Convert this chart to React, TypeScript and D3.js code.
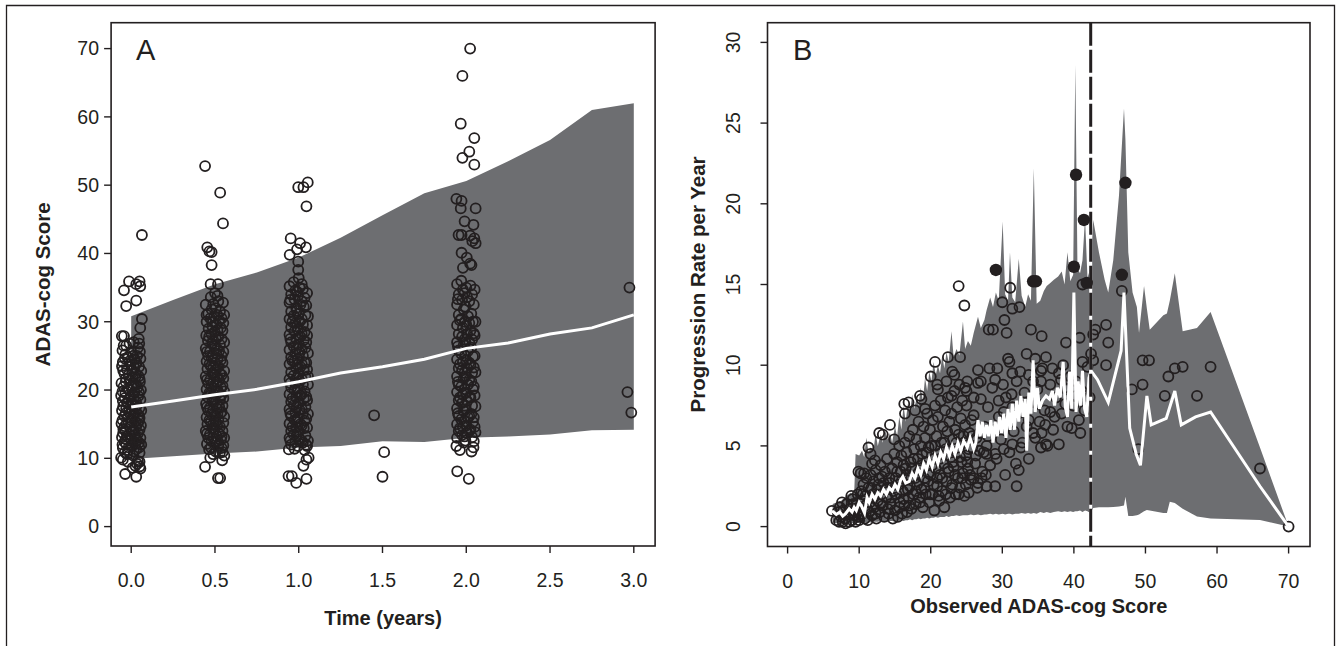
import React from "react";
import * as d3 from "d3";

// ---------- Panel A data ----------
const timeGrid = [0, 0.25, 0.5, 0.75, 1.0, 1.25, 1.5, 1.75, 2.0, 2.25, 2.5, 2.75, 3.0];
const bandUpperA = [30.8, 33.2, 35.5, 37.2, 39.4, 42.3, 45.6, 48.8, 50.6, 53.5, 56.6, 61.0, 62.0];
const bandLowerA = [9.9, 10.3, 10.7, 11.0, 11.6, 11.8, 12.5, 12.4, 13.0, 13.2, 13.5, 14.1, 14.2];
const medianA = [17.5, 18.4, 19.3, 20.1, 21.2, 22.5, 23.4, 24.5, 26.1, 26.9, 28.2, 29.1, 31.0];

const obsTime0: [number, number][] = [
  [-0.043,34.6],[-0.013,35.9],[0.03,35.5],[0.05,35.9],[0.054,35.2],[-0.03,32.3],[0.03,33.1],[0.064,42.7],[0.064,30.4],[-0.056,27.9],[-0.043,27.9],[0.054,29.1],[0.045,27.5],[-0.036,7.7],[0.03,7.3],[0.05,8.8],[0.008,8.6],[-0.06,10.1],[0.035,9.2],[0.055,8.5],[-0.02,9.5],[0.012,10.4],
  [-0.05,24.1],[-0.055,23.5],[-0.04,22.4],[-0.058,21.0],[-0.045,20.5],[-0.06,19.2],[-0.05,18.4],[-0.055,17.0],[-0.04,16.2],[-0.058,15.1],[-0.047,14.3],[-0.055,13.1],[-0.04,12.4],[-0.05,11.5],[-0.035,25.2],[-0.03,26.5],[-0.02,24.8],[-0.025,23.0],[-0.03,21.7],[-0.02,20.2],[-0.035,19.5],[-0.025,18.1],[-0.03,17.3],[-0.02,16.0],[-0.028,15.0],[-0.035,14.0],[-0.022,13.2],[-0.03,12.1],[-0.018,11.2],[-0.025,10.6],[-0.01,26.8],[0.0,25.6],[-0.005,23.8],[0.005,22.9],[-0.008,21.4],[0.003,20.6],[-0.005,19.0],[0.0,18.3],[0.006,17.2],[-0.004,16.5],[0.002,15.5],[-0.006,14.6],[0.004,13.8],[-0.002,12.8],[0.007,11.9],[0.015,27.0],[0.02,24.5],[0.018,23.3],[0.025,21.9],[0.012,20.9],[0.02,19.7],[0.015,18.7],[0.022,17.6],[0.018,16.6],[0.025,15.4],[0.014,14.2],[0.02,13.4],[0.025,12.2],[0.016,11.0],[0.035,25.0],[0.04,26.2],[0.032,23.9],[0.045,22.0],[0.038,20.4],[0.042,19.1],[0.035,17.8],[0.045,16.3],[0.038,15.1],[0.042,13.7],[0.035,12.6],[0.048,11.6],[0.055,24.6],[0.06,22.8],[0.052,21.2],[0.058,20.0],[0.055,18.6],[0.06,17.0],[0.05,15.9],[0.058,14.8],[0.055,13.0],[0.06,12.0],[0.05,10.8],[0.048,26.8],[-0.045,26.5],[-0.05,9.8],[0.04,9.6],[0.025,8.9],
  [-0.052,25.8],[-0.038,24.6],[-0.048,22.9],[-0.033,21.2],[-0.052,19.8],[-0.038,18.8],[-0.048,17.6],[-0.033,16.6],[-0.052,15.6],[-0.038,14.7],[-0.048,13.7],[-0.033,12.8],[-0.052,12.0],[-0.038,10.9],[-0.012,24.2],[-0.015,22.2],[-0.012,20.0],[-0.015,18.6],[-0.012,17.0],[-0.015,15.2],[-0.012,13.5],[-0.015,11.6],[0.01,25.0],[0.008,21.8],[0.01,19.4],[0.008,17.8],[0.01,16.1],[0.008,14.0],[0.01,12.4],[0.03,24.0],[0.028,22.4],[0.03,20.8],[0.028,18.3],[0.03,16.8],[0.028,14.5],[0.03,13.0],[0.03,11.3],[0.052,25.6],[0.047,23.4],[0.05,21.6],[0.047,19.6],[0.05,17.4],[0.047,15.5],[0.05,14.2],[0.047,12.3],[0.05,9.5]
];
const obsTime05: [number, number][] = [
  [0.441,52.8],[0.531,48.9],[0.548,44.4],[0.454,40.9],[0.467,40.3],[0.48,40.2],[0.48,38.3],[0.474,35.5],[0.518,35.5],[0.441,8.75],[0.518,7.1],[0.531,7.1],[0.472,10.1],[0.543,9.7],[0.556,10.4],
  [0.445,32.5],[0.46,31.2],[0.45,30.0],[0.462,29.0],[0.448,28.0],[0.458,27.2],[0.445,26.1],[0.46,25.0],[0.45,24.2],[0.455,23.1],[0.445,22.0],[0.46,21.0],[0.45,20.1],[0.455,19.0],[0.447,18.0],[0.46,17.0],[0.45,16.0],[0.455,15.0],[0.445,14.0],[0.46,13.0],[0.452,12.1],[0.465,11.3],
  [0.475,33.6],[0.48,31.8],[0.472,30.5],[0.485,29.3],[0.478,28.2],[0.483,26.8],[0.47,25.6],[0.48,24.7],[0.476,23.5],[0.485,22.5],[0.472,21.5],[0.48,20.5],[0.476,19.5],[0.485,18.4],[0.47,17.4],[0.48,16.5],[0.476,15.4],[0.485,14.4],[0.47,13.5],[0.48,12.5],[0.476,11.6],[0.49,10.6],
  [0.5,34.2],[0.505,32.0],[0.495,30.8],[0.508,29.6],[0.498,28.5],[0.505,27.5],[0.495,26.4],[0.51,25.3],[0.5,24.0],[0.505,23.0],[0.495,22.2],[0.51,21.2],[0.5,20.2],[0.505,19.3],[0.495,18.3],[0.51,17.3],[0.5,16.2],[0.505,15.3],[0.495,14.2],[0.51,13.2],[0.5,12.3],[0.505,11.0],
  [0.52,33.0],[0.53,31.5],[0.525,30.2],[0.535,29.1],[0.52,27.8],[0.53,26.6],[0.525,25.7],[0.535,24.4],[0.52,23.4],[0.53,22.4],[0.525,21.4],[0.535,20.4],[0.52,19.6],[0.53,18.6],[0.525,17.6],[0.535,16.7],[0.52,15.7],[0.53,14.6],[0.525,13.6],[0.535,12.7],[0.52,11.8],[0.53,10.8],
  [0.548,32.8],[0.555,31.0],[0.55,29.8],[0.545,28.7],[0.555,27.0],[0.55,25.6],[0.545,24.0],[0.555,22.8],[0.55,21.7],[0.545,20.6],[0.555,19.8],[0.55,18.8],[0.545,17.7],[0.555,16.1],[0.55,15.2],[0.545,14.0],[0.555,13.0],[0.55,11.9],[0.545,10.9],
  [0.45,31.0],[0.465,27.8],[0.452,25.6],[0.467,23.8],[0.452,21.5],[0.467,19.6],[0.452,17.5],[0.467,15.6],[0.452,13.6],[0.49,32.6],[0.488,30.0],[0.49,27.3],[0.488,25.0],[0.49,23.2],[0.488,21.0],[0.49,19.0],[0.488,17.0],[0.49,15.0],[0.488,13.0],[0.515,33.8],[0.513,31.0],[0.515,28.8],[0.513,26.0],[0.515,24.5],[0.513,22.0],[0.515,20.0],[0.513,18.0],[0.515,16.5],[0.513,14.8],[0.515,12.5],[0.54,30.5],[0.54,27.5],[0.54,25.0],[0.54,22.2],[0.54,19.3],[0.54,16.8],[0.54,13.2],[0.54,11.5]
];
const obsTime1: [number, number][] = [
  [0.997,49.7],[1.028,49.7],[1.054,50.4],[1.046,46.9],[0.952,42.2],[0.946,39.8],[0.99,40.6],[1.008,41.5],[1.043,40.9],[0.997,38.8],[0.997,37.6],[0.939,7.4],[0.959,7.4],[0.985,6.4],[1.046,7.0],[1.028,8.9],[1.046,9.8],[1.059,10.1],[0.941,11.3],
  [0.945,35.2],[0.955,34.0],[0.945,32.8],[0.955,31.5],[0.945,30.4],[0.955,29.2],[0.945,28.1],[0.955,27.0],[0.945,25.9],[0.955,24.8],[0.945,23.8],[0.955,22.6],[0.945,21.6],[0.955,20.4],[0.945,19.4],[0.955,18.3],[0.945,17.2],[0.955,16.2],[0.945,15.1],[0.955,14.0],[0.945,13.0],[0.955,12.0],
  [0.97,35.8],[0.98,34.6],[0.975,33.3],[0.985,32.0],[0.97,30.9],[0.98,29.8],[0.975,28.6],[0.985,27.5],[0.97,26.4],[0.98,25.3],[0.975,24.2],[0.985,23.2],[0.97,22.1],[0.98,21.0],[0.975,20.0],[0.985,18.9],[0.97,17.8],[0.98,16.7],[0.975,15.6],[0.985,14.5],[0.97,13.5],[0.98,12.4],[0.975,11.4],
  [1.0,36.4],[1.005,35.0],[0.995,33.8],[1.01,32.5],[1.0,31.2],[1.005,30.0],[0.995,28.9],[1.01,27.8],[1.0,26.7],[1.005,25.5],[0.995,24.5],[1.01,23.4],[1.0,22.4],[1.005,21.3],[0.995,20.3],[1.01,19.2],[1.0,18.1],[1.005,17.1],[0.995,16.0],[1.01,15.0],[1.0,13.9],[1.005,12.8],[0.995,11.8],
  [1.025,34.8],[1.035,33.5],[1.03,32.2],[1.04,31.0],[1.025,29.6],[1.035,28.5],[1.03,27.3],[1.04,26.2],[1.025,25.0],[1.035,24.0],[1.03,22.9],[1.04,21.9],[1.025,20.8],[1.035,19.8],[1.03,18.7],[1.04,17.5],[1.025,16.5],[1.035,15.5],[1.03,14.4],[1.04,13.3],[1.025,12.3],[1.035,11.2],
  [1.05,34.2],[1.055,30.8],[1.05,28.0],[1.055,25.4],[1.05,23.0],[1.055,20.8],[1.05,18.5],[1.055,16.5],[1.05,14.5],[1.055,12.6],[1.05,29.5],[1.055,22.0],[1.05,11.8],
  [0.95,33.2],[0.962,30.0],[0.95,27.5],[0.962,24.3],[0.95,21.0],[0.962,18.8],[0.95,16.6],[0.962,14.6],[0.95,12.6],[0.99,34.4],[0.988,31.6],[0.99,29.3],[0.988,26.1],[0.99,23.7],[0.988,21.8],[0.99,19.7],[0.988,17.5],[0.99,15.4],[0.988,13.3],[1.018,35.5],[1.018,33.0],[1.018,30.4],[1.018,28.2],[1.018,26.0],[1.018,23.8],[1.018,21.6],[1.018,19.4],[1.018,17.2],[1.018,14.8],[1.018,12.6],[1.045,32.4],[1.045,27.0],[1.045,24.0],[1.045,19.0],[1.045,15.8],[1.045,12.0]
];
const obsTime15: [number, number][] = [[1.45,16.3],[1.51,10.9],[1.50,7.3]];
const obsTime2: [number, number][] = [
  [2.023,70.0],[1.977,66.0],[1.967,59.0],[2.048,56.9],[2.018,54.9],[1.977,54.0],[2.048,53.0],[1.941,48.0],[1.972,47.7],[1.967,46.6],[2.056,46.6],[1.99,44.7],[2.043,44.2],[1.954,42.7],[1.972,42.7],[2.023,42.6],[2.048,42.2],[2.056,41.5],[2.036,41.8],[1.972,40.1],[2.003,39.4],[2.023,38.5],[2.031,38.3],[1.98,37.9],[1.946,8.1],[2.015,7.0],[1.962,11.2],[2.031,11.0],[1.941,11.8],[2.043,11.6],
  [1.945,35.5],[1.955,34.0],[1.945,32.5],[1.955,31.0],[1.945,29.5],[1.955,28.2],[1.945,27.0],[1.955,25.8],[1.945,24.5],[1.955,23.2],[1.945,22.0],[1.955,20.8],[1.945,19.7],[1.955,18.5],[1.945,17.3],[1.955,16.2],[1.945,15.0],[1.955,14.0],[1.945,13.0],
  [1.97,36.0],[1.98,34.7],[1.975,33.2],[1.985,31.8],[1.97,30.4],[1.98,29.1],[1.975,27.8],[1.985,26.6],[1.97,25.3],[1.98,24.1],[1.975,22.9],[1.985,21.7],[1.97,20.5],[1.98,19.3],[1.975,18.1],[1.985,16.9],[1.97,15.7],[1.98,14.6],[1.975,13.4],[1.985,12.3],
  [2.0,35.0],[2.005,33.6],[1.995,32.2],[2.01,30.8],[2.0,29.5],[2.005,28.2],[1.995,27.0],[2.01,25.7],[2.0,24.4],[2.005,23.2],[1.995,22.0],[2.01,20.8],[2.0,19.6],[2.005,18.4],[1.995,17.2],[2.01,16.0],[2.0,14.8],[2.005,13.7],[1.995,12.6],
  [2.025,35.3],[2.035,34.0],[2.03,31.2],[2.04,30.0],[2.025,28.7],[2.035,27.4],[2.03,26.2],[2.04,24.9],[2.025,23.7],[2.035,22.5],[2.03,21.3],[2.04,20.1],[2.025,18.9],[2.035,17.7],[2.03,16.5],[2.04,15.3],[2.025,14.2],[2.035,13.1],
  [2.05,34.7],[2.055,30.0],[2.05,25.0],[2.055,22.6],[2.05,19.2],[2.055,17.6],[2.05,14.6],[2.055,13.8],[2.05,28.0],
  [1.95,33.3],[1.962,30.2],[1.95,26.4],[1.962,23.8],[1.95,21.2],[1.962,18.9],[1.95,16.6],[1.962,14.4],[1.99,34.2],[1.992,30.0],[1.99,27.4],[1.992,25.0],[1.99,22.5],[1.992,20.1],[1.99,17.7],[1.992,15.4],[1.99,13.2],[2.018,33.0],[2.018,29.8],[2.018,27.0],[2.018,24.0],[2.018,21.5],[2.018,19.0],[2.018,16.2],[2.018,14.0],[2.045,32.5],[2.045,28.3],[2.045,23.3],[2.045,20.5],[2.045,16.0],[2.045,12.5]
];
const obsTime3: [number, number][] = [[2.974,35.0],[2.962,19.7],[2.985,16.7]];

const xTicksA = [0, 0.5, 1.0, 1.5, 2.0, 2.5, 3.0];
const yTicksA = [0, 10, 20, 30, 40, 50, 60, 70];

// ---------- Panel B data ----------
const bandXB = [6.3,6.8,7.5,8.2,8.8,9.3,9.5,10.0,10.4,10.7,11.0,11.3,11.6,12.0,12.3,12.6,13.0,13.3,13.6,14.0,14.3,14.6,15.0,15.3,15.6,15.9,16.2,16.5,16.8,17.1,17.4,17.7,18.0,18.3,18.6,18.9,19.2,19.5,19.8,20.1,20.4,20.7,21.0,21.3,21.6,21.9,22.2,22.5,22.9,23.2,23.6,24.0,24.5,24.8,25.2,25.6,26.0,26.6,27.0,27.5,27.8,28.3,28.7,29.1,29.5,30.05,30.4,30.8,31.07,31.4,31.8,32.3,32.7,33.2,33.6,34.0,34.4,34.8,35.3,35.8,36.2,36.7,37.2,37.8,38.3,38.7,39.1,39.5,39.9,40.2,40.5,40.86,41.2,41.56,41.9,42.3,42.7,43.5,44.3,44.8,45.5,46.3,47.0,47.2,47.6,48.2,48.8,49.1,49.8,50.2,50.6,52.5,53.0,53.4,54.1,55.2,57.2,59.1,66.0,70.0];
const bandLoB = [0.25,0.2,0.2,0.15,0.2,0.2,0.2,0.25,0.2,0.25,0.25,0.3,0.25,0.3,0.3,0.3,0.35,0.3,0.35,0.3,0.35,0.35,0.3,0.4,0.35,0.4,0.35,0.4,0.4,0.45,0.4,0.45,0.45,0.5,0.45,0.5,0.5,0.55,0.5,0.55,0.55,0.6,0.55,0.6,0.6,0.6,0.65,0.6,0.65,0.65,0.7,0.65,0.7,0.7,0.7,0.75,0.7,0.75,0.7,0.75,0.75,0.8,0.75,0.8,0.75,0.8,0.75,0.8,0.8,0.75,0.8,0.8,0.85,0.8,0.85,0.8,0.85,0.8,0.9,0.85,0.9,0.85,0.9,0.95,0.9,0.95,0.9,0.95,0.9,0.95,0.95,1.0,0.9,1.0,0.95,0.84,1.15,1.2,1.2,1.2,1.22,1.25,1.3,1.85,0.66,0.65,0.7,0.75,0.95,1.03,1.0,0.85,0.84,1.54,1.46,1.1,0.62,0.5,0.41,0.0];
const bandHiB = [1.4,1.5,1.6,1.9,2.1,2.0,4.5,4.4,4.7,4.3,5.5,4.6,4.9,4.7,5.8,5.0,5.7,5.2,6.0,5.4,5.8,5.2,6.2,5.6,6.8,6.0,7.5,6.5,7.6,7.0,8.2,7.3,7.9,7.5,8.6,7.8,9.2,8.4,9.6,9.0,10.2,9.4,10.0,9.5,10.6,9.8,10.8,10.2,12.1,10.5,11.0,10.6,12.7,11.0,11.5,11.2,12.0,13.0,12.3,12.8,13.4,14.2,13.6,14.5,14.0,18.9,14.4,14.0,17.0,14.2,13.9,16.6,14.3,13.6,14.4,14.0,22.2,13.8,14.0,14.6,14.9,15.1,15.3,15.5,15.8,15.0,17.0,15.2,15.6,28.6,16.0,15.7,16.5,19.1,15.4,16.0,19.0,17.0,15.3,14.5,16.5,20.5,25.9,24.0,17.0,14.5,13.6,12.0,14.9,13.5,12.2,13.1,13.2,14.0,15.7,12.1,12.3,13.3,4.9,0.0];

const medXB = [6.2,6.8,7.3,7.7,8.1,8.6,9.0,9.3,9.6,10.0,10.3,10.75,11.1,11.4,11.8,12.2,12.6,13.0,13.4,13.8,14.2,14.6,15.0,15.4,15.8,16.1,16.5,17.0,17.4,17.8,18.2,18.6,19.0,19.4,19.8,20.2,20.6,21.0,21.4,21.8,22.2,22.6,23.0,23.4,23.8,24.2,24.6,25.1,25.5,26.0,26.3,26.6,26.9,27.2,27.5,27.8,28.1,28.4,28.7,29.0,29.3,29.6,29.9,30.2,30.5,30.8,31.1,31.4,31.7,32.0,32.3,32.6,32.9,33.2,33.4,33.7,34.0,34.3,34.6,34.9,35.2,35.6,36.1,36.6,37.0,37.3,37.7,38.1,38.5,38.8,39.1,39.4,39.7,40.0,40.3,40.6,40.9,41.2,41.5,41.8,42.1,42.4,43.3,44.8,46.6,47.0,47.8,48.7,49.3,50.2,50.8,52.9,54.1,55.0,57.0,59.1,66.0,70.0];
const medYB = [0.97,0.75,0.9,0.65,0.8,1.1,0.9,1.2,1.0,1.5,1.3,0.84,1.8,1.5,2.0,1.7,2.1,1.9,2.3,2.0,2.4,2.2,2.6,2.3,2.9,3.1,2.7,2.8,3.3,3.0,3.6,3.2,3.9,3.5,4.2,3.7,4.4,3.9,4.6,4.2,4.9,4.4,5.0,4.5,5.2,4.7,5.3,4.9,5.5,4.8,5.2,6.6,5.6,6.5,5.5,6.3,5.6,6.6,5.2,6.5,5.6,6.8,5.8,7.0,5.5,7.3,6.0,7.6,6.0,7.8,6.5,8.1,6.8,7.9,4.7,8.3,7.0,10.3,7.1,8.6,7.3,7.8,8.1,7.9,8.4,7.5,8.6,8.0,10.2,7.4,6.8,9.6,7.3,14.5,7.1,9.0,7.5,9.65,7.3,6.8,9.2,9.65,9.1,7.7,10.9,14.5,6.1,4.5,3.8,8.1,6.3,6.7,8.4,6.3,6.8,7.1,2.5,0.0];

const obsB: [number, number][] = [
  [6.2,0.97],[23.9,14.9],[24.7,13.7],[20.6,10.2],[20.0,9.3],[20.9,8.8],[16.9,7.7],[16.3,7.6],[18.5,8.1],[18.7,7.9],[22.4,10.5],[24.1,10.5],[23.3,9.4],[24.8,8.6],[25.1,9.0],[14.3,6.3],[12.8,5.8],[13.3,5.7],[11.3,4.9],[11.6,4.5],[9.9,3.4],[10.7,3.3],[14.9,5.4],
  [26.6,9.7],[26.6,8.9],[28.1,12.2],[28.7,12.2],[30.0,13.9],[30.3,12.8],[30.6,12.0],[31.1,14.8],[31.4,13.5],[32.4,13.6],[34.0,12.2],[35.5,11.8],[33.4,10.7],[34.6,10.4],[36.1,10.5],[30.8,10.4],[31.0,10.2],[31.4,9.5],[29.3,9.8],[29.0,9.1],[32.0,9.0],[33.7,9.4],[35.4,9.65],[35.4,9.0],
  [27.8,2.5],[29.0,2.5],[32.0,2.5],[32.3,3.5],[25.3,2.1],[37.9,5.1],[35.4,4.9],[36.1,5.1],[40.9,5.8],[38.2,9.1],[38.5,10.0],[38.9,11.4],[40.8,11.7],[41.2,10.2],[42.4,10.7],[42.7,11.9],[43.0,12.2],[44.5,12.5],[44.8,11.4],[44.5,10.0],[42.7,10.3],[41.2,15.0],[46.7,14.6],
  [48.1,8.5],[49.0,4.8],[49.6,8.8],[49.6,10.3],[50.5,10.3],[52.7,8.1],[53.2,9.3],[54.1,9.8],[55.2,9.9],[57.2,8.1],[59.1,9.9],[66.0,3.6],[70.0,0.0],
  [30.2,7.1],[31.4,7.4],[32.6,7.1],[33.7,6.6],[34.9,7.6],[36.7,7.1],[34.3,5.8],[32.6,4.9],[31.4,5.1],[30.2,4.8],[29.0,4.5],[27.8,4.5],[37.3,6.8],[39.7,6.1],[40.3,8.1],[41.8,8.1],[38.8,7.6],[35.5,5.8],
  [6.8,0.4],[7.0,0.9],[7.2,0.3],[7.3,1.2],[7.5,0.6],[7.7,0.3],[7.8,1.0],[8.0,0.5],[8.1,0.2],[8.3,1.4],[8.5,0.8],[8.6,0.3],[8.8,1.1],[9.0,0.4],[9.1,1.7],[9.3,0.7],[9.5,0.3],[9.6,1.3],[9.8,2.0],[9.9,0.6],[7.6,1.5],[8.9,1.9],[9.4,1.0],
  [10.0,0.4],[10.1,1.2],[10.3,2.2],[10.4,0.8],[10.5,1.6],[10.6,2.6],[10.8,0.5],[10.9,1.9],[11.0,3.0],[11.1,1.1],[11.2,0.4],[11.3,2.4],[11.5,1.5],[11.6,3.2],[11.8,0.7],[11.9,2.0],[12.0,2.8],[12.1,1.2],[12.3,3.5],[12.4,0.5],[12.5,2.3],[12.6,1.6],[12.8,3.0],[12.9,0.9],[13.0,3.8],[13.1,2.0],[13.3,1.3],[13.4,2.7],[13.5,0.6],[13.6,3.4],[13.8,1.8],[13.9,4.2],[14.0,2.4],[14.1,0.8],[14.2,3.0],[14.4,1.4],[14.6,3.6],[14.7,0.5],[14.8,2.2],[14.9,4.5],[11.8,3.9],[10.2,3.3],[12.2,4.1],
  [15.0,1.0],[15.1,3.0],[15.2,2.0],[15.3,4.0],[15.4,0.6],[15.5,2.6],[15.6,5.0],[15.7,1.5],[15.8,3.4],[15.9,4.4],[16.0,0.8],[16.1,2.2],[16.2,3.8],[16.3,1.3],[16.4,5.2],[16.5,2.9],[16.6,4.6],[16.7,0.9],[16.8,3.2],[16.9,1.8],[17.0,5.6],[17.1,2.5],[17.2,4.0],[17.3,1.1],[17.4,3.6],[17.5,6.0],[17.6,2.0],[17.7,4.8],[17.8,3.0],[17.9,1.4],[18.0,5.4],[18.1,2.6],[18.2,4.2],[18.3,6.5],[18.4,1.8],[18.5,3.5],[18.6,5.0],[18.7,2.3],[18.8,4.5],[18.9,1.2],[19.0,6.2],[19.1,3.0],[19.2,5.5],[19.3,2.0],[19.4,4.0],[19.5,7.0],[19.6,2.8],[19.7,4.9],[19.8,1.5],[19.9,6.0],[16.4,7.0],[17.8,7.2],[19.2,7.3],
  [20.0,3.2],[20.1,5.0],[20.2,2.0],[20.3,6.6],[20.4,4.2],[20.5,1.0],[20.6,7.5],[20.7,3.6],[20.8,5.6],[20.9,2.5],[21.0,6.8],[21.1,4.5],[21.2,1.6],[21.3,3.2],[21.4,7.8],[21.5,5.2],[21.6,2.2],[21.7,6.2],[21.8,3.9],[21.9,1.2],[22.0,7.2],[22.1,4.8],[22.2,2.8],[22.3,5.9],[22.4,8.0],[22.5,3.4],[22.6,6.5],[22.7,1.8],[22.8,4.3],[22.9,7.0],[23.0,2.6],[23.1,5.4],[23.2,3.7],[23.3,8.4],[23.4,6.0],[23.5,2.0],[23.6,4.6],[23.7,7.4],[23.8,3.0],[23.9,5.7],[24.0,8.8],[24.1,2.4],[24.2,6.7],[24.3,4.0],[24.4,7.8],[24.5,3.3],[24.6,5.2],[24.7,1.9],[24.8,6.3],[24.9,4.4],[25.0,7.5],[25.2,3.6],[25.4,5.8],[25.6,2.9],[25.8,4.9],[26.0,6.9],[26.2,3.9],[26.4,5.5],[26.6,2.7],[26.8,4.7],[27.0,7.9],[27.2,3.4],[27.5,6.2],[27.8,5.0],[21.0,8.5],[22.2,9.0],[23.0,9.6],
  [28.0,7.4],[28.3,3.8],[28.6,8.6],[28.9,6.0],[29.2,4.2],[29.5,7.8],[29.8,5.4],[30.1,8.8],[30.4,3.2],[30.7,6.6],[31.0,4.6],[31.3,8.2],[31.6,5.9],[31.9,3.9],[32.2,7.0],[32.5,9.6],[32.8,5.2],[33.1,8.3],[33.4,6.2],[33.7,4.2],[34.0,7.7],[34.3,9.0],[34.6,5.5],[34.9,8.5],[35.2,6.5],[35.6,9.8],[35.9,7.2],[36.3,5.0],[36.7,8.8],[37.1,6.0],[37.5,8.0],[37.9,9.5],[38.3,7.0],[38.7,8.6],[39.1,6.2],[39.5,9.3],[39.9,7.5],[40.3,9.0],[40.7,6.6],[41.1,8.4],[41.5,7.2],[41.9,9.9],[42.2,8.0],
  [9.2,1.4],[9.7,0.9],[10.2,0.7],[10.5,2.0],[10.9,1.3],[11.4,0.9],[11.7,2.4],[12.0,1.8],[12.3,0.8],[12.7,2.6],[13.0,1.4],[13.2,3.1],[13.7,2.3],[14.0,1.1],[14.3,2.7],[14.5,1.8],
  [15.0,2.4],[15.3,3.4],[15.6,1.2],[15.9,2.8],[16.2,1.7],[16.5,3.6],[16.8,2.3],[17.0,1.3],[17.3,3.0],[17.6,4.2],[17.9,2.2],[18.2,3.3],[18.5,1.5],[18.8,3.8],[19.1,2.4],[19.4,4.6],[19.7,3.3],[19.9,2.0],
  [20.2,3.8],[20.4,2.6],[20.6,5.0],[20.9,3.0],[21.1,1.9],[21.3,4.2],[21.6,3.0],[21.9,5.2],[22.1,2.0],[22.4,3.6],[22.6,4.8],[22.9,2.4],[23.1,4.0],[23.4,3.2],[23.6,5.2],[23.9,2.0],[24.1,4.3],[24.4,3.0],[24.6,5.6],[24.9,2.6],[25.1,4.0],[25.3,4.8],[25.5,3.2],[25.8,5.6],[26.0,3.0],[26.3,4.4],[26.5,2.4],[26.8,5.8],[27.1,3.0],[27.4,4.6],[27.7,3.2],[28.0,5.6],
  [25.0,8.4],[26.0,8.0],[27.0,9.0],[28.2,9.8],[29.5,6.8],[30.5,8.0],[33.0,7.5],[36.0,6.3],[37.0,9.8],[39.0,8.5],[25.7,6.6],[22.9,8.1]
];
const filledB: [number, number][] = [[29.1,15.9],[34.3,15.2],[34.7,15.2],[40.0,16.1],[40.3,21.8],[41.4,19.0],[41.8,15.1],[46.7,15.6],[47.2,21.3]];
const cutoffB = 42.35;
const xTicksB = [0, 10, 20, 30, 40, 50, 60, 70];
const yTicksB = [0, 5, 10, 15, 20, 25, 30];

const INK = "#231f20";
const BAND = "#6d6e71";
const FONT = "'Liberation Sans', Arial, Helvetica, sans-serif";

export default function App() {
  const xA = d3.scaleLinear().domain([0, 3]).range([131.2, 633.8]);
  const yA = d3.scaleLinear().domain([0, 70]).range([526.6, 48.6]);
  const boxA = { l: 111.1, r: 655.1, t: 22.7, b: 546 };
  const xB = d3.scaleLinear().domain([0, 70]).range([787.6, 1288.6]);
  const yB = d3.scaleLinear().domain([0, 30]).range([526.6, 42.4]);
  const boxB = { l: 767.5, r: 1310, t: 22.7, b: 546.5 };

  const areaA = d3.area<number>()
    .x((_, i) => xA(timeGrid[i]))
    .y0((_, i) => yA(bandLowerA[i]))
    .y1((_, i) => yA(bandUpperA[i]));
  const lineA = d3.line<number>()
    .x((_, i) => xA(timeGrid[i]))
    .y((d) => yA(d));

  const areaB = d3.area<number>()
    .x((_, i) => xB(bandXB[i]))
    .y0((_, i) => yB(bandLoB[i]))
    .y1((_, i) => yB(bandHiB[i]));
  const lineB = d3.line<number>()
    .x((_, i) => xB(medXB[i]))
    .y((d) => yB(d));

  const allA = [...obsTime0, ...obsTime05, ...obsTime1, ...obsTime15, ...obsTime2, ...obsTime3];
  const tick = 7;
  const R = 5;
  const SW = 1.8;

  return (
    <svg width={1341} height={646} style={{ position: "absolute", left: 0, top: 0, background: "#fff" }} fontFamily={FONT}>
      <path d="M6.5,646 V5.5 H1334.5 V646" fill="none" stroke={INK} strokeWidth={1.3} />

      {/* ---------- Panel A ---------- */}
      <path d={areaA(bandUpperA) || ""} fill={BAND} />
      <g fill="none" stroke={INK} strokeWidth={SW}>
        {allA.map((d, i) => (
          <circle key={i} cx={xA(d[0])} cy={yA(d[1])} r={R} />
        ))}
      </g>
      <path d={lineA(medianA) || ""} fill="none" stroke="#fff" strokeWidth={3} />
      <rect x={boxA.l} y={boxA.t} width={boxA.r - boxA.l} height={boxA.b - boxA.t} fill="none" stroke={INK} strokeWidth={1.6} />
      {yTicksA.map((t) => (
        <g key={"ya" + t}>
          <line x1={boxA.l - tick} x2={boxA.l} y1={yA(t)} y2={yA(t)} stroke={INK} strokeWidth={1.4} />
          <text x={99} y={yA(t)} dy="0.35em" textAnchor="end" fontSize={19.5} fill={INK}>{t}</text>
        </g>
      ))}
      {xTicksA.map((t) => (
        <g key={"xa" + t}>
          <line x1={xA(t)} x2={xA(t)} y1={boxA.b} y2={boxA.b + tick} stroke={INK} strokeWidth={1.4} />
          <text x={xA(t)} y={587} textAnchor="middle" fontSize={19.5} fill={INK}>{t.toFixed(1)}</text>
        </g>
      ))}
      <text x={(boxA.l + boxA.r) / 2} y={625} textAnchor="middle" fontSize={20} fontWeight="bold" fill={INK}>Time (years)</text>
      <text transform={`translate(42.7,284.4) rotate(-90)`} dy="0.35em" textAnchor="middle" fontSize={20.5} fontWeight="bold" fill={INK}>ADAS-cog Score</text>
      <text x={136} y={60} fontSize={29} fill={INK}>A</text>

      {/* ---------- Panel B ---------- */}
      <path d={areaB(bandHiB) || ""} fill={BAND} />
      <g fill="none" stroke={INK} strokeWidth={SW}>
        {obsB.map((d, i) => (
          <circle key={i} cx={xB(d[0])} cy={yB(d[1])} r={R} />
        ))}
      </g>
      <path d={lineB(medYB) || ""} fill="none" stroke="#fff" strokeWidth={3} strokeLinejoin="miter" />
      <line x1={xB(cutoffB)} x2={xB(cutoffB)} y1={boxB.t} y2={boxB.b} stroke="#fff" strokeWidth={3} />
      <line x1={xB(cutoffB)} x2={xB(cutoffB)} y1={boxB.t} y2={boxB.b} stroke={INK} strokeWidth={3} strokeDasharray="23 4" />
      <g fill={INK}>
        {filledB.map((d, i) => (
          <circle key={i} cx={xB(d[0])} cy={yB(d[1])} r={6.2} />
        ))}
      </g>
      <rect x={boxB.l} y={boxB.t} width={boxB.r - boxB.l} height={boxB.b - boxB.t} fill="none" stroke={INK} strokeWidth={1.6} />
      {yTicksB.map((t) => (
        <g key={"yb" + t}>
          <line x1={boxB.l - tick} x2={boxB.l} y1={yB(t)} y2={yB(t)} stroke={INK} strokeWidth={1.4} />
          <text transform={`translate(733,${yB(t)}) rotate(-90)`} dy="0.35em" textAnchor="middle" fontSize={19.5} fill={INK}>{t}</text>
        </g>
      ))}
      {xTicksB.map((t) => (
        <g key={"xb" + t}>
          <line x1={xB(t)} x2={xB(t)} y1={boxB.b} y2={boxB.b + tick} stroke={INK} strokeWidth={1.4} />
          <text x={xB(t)} y={588} textAnchor="middle" fontSize={19.5} fill={INK}>{t}</text>
        </g>
      ))}
      <text x={(boxB.l + boxB.r) / 2} y={613} textAnchor="middle" fontSize={20} fontWeight="bold" fill={INK}>Observed ADAS-cog Score</text>
      <text transform={`translate(697.8,284.4) rotate(-90)`} dy="0.35em" textAnchor="middle" fontSize={20.5} fontWeight="bold" fill={INK}>Progression Rate per Year</text>
      <text x={793} y={60} fontSize={29} fill={INK}>B</text>
    </svg>
  );
}
